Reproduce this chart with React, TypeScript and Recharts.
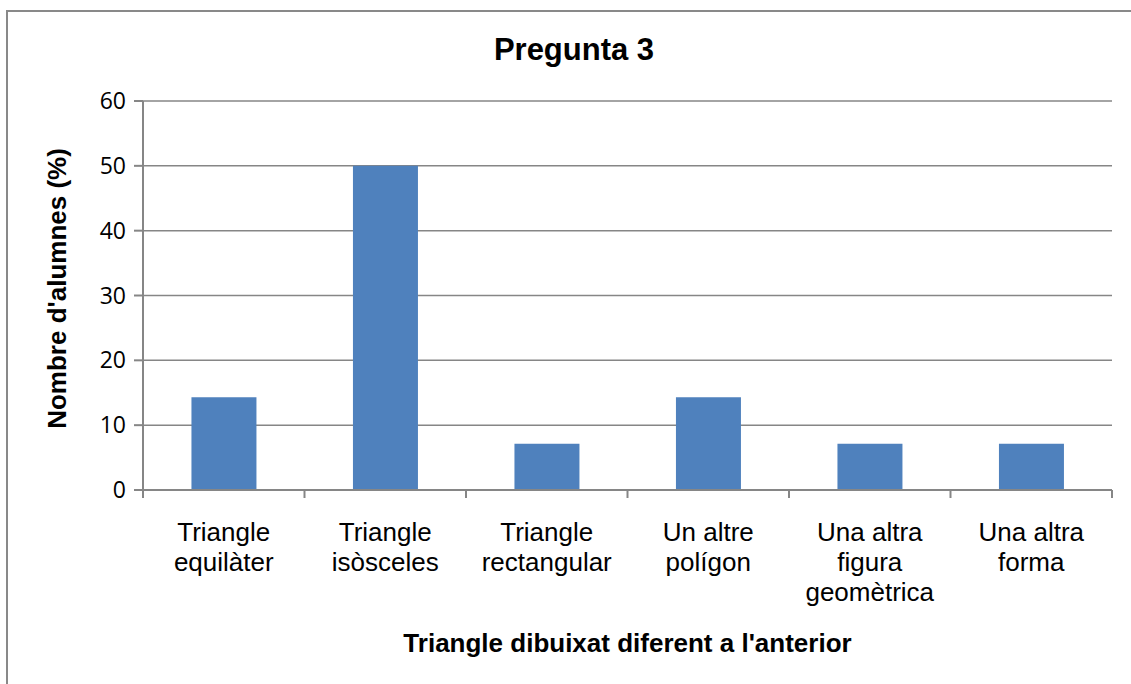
import React from 'react';
import { BarChart, Bar, XAxis, YAxis, CartesianGrid, Label } from 'recharts';

const categories = [
  'Triangle\nequilàter',
  'Triangle\nisòsceles',
  'Triangle\nrectangular',
  'Un altre\npolígon',
  'Una altra\nfigura\ngeomètrica',
  'Una altra\nforma',
];
const percentages = [14.29, 50, 7.14, 14.29, 7.14, 7.14];
const yTicks = [0, 10, 20, 30, 40, 50, 60];

const data = categories.map((name, i) => ({ name, value: percentages[i] }));

const GRAY = '#868686';

const CategoryTick = (props: any) => {
  const { x, y, payload, index, visibleTicksCount } = props;
  const half = payload.offset || 0;
  const lines = String(payload.value).split('\n');
  const isLast = index === visibleTicksCount - 1;
  return (
    <g>
      <line x1={x - half} y1={y} x2={x - half} y2={y + 8} stroke={GRAY} strokeWidth={2} />
      {isLast && <line x1={x + half} y1={y} x2={x + half} y2={y + 8} stroke={GRAY} strokeWidth={2} />}
      {lines.map((l: string, i: number) => (
        <text
          key={i}
          x={x}
          y={y + 51 + i * 30}
          textAnchor="middle"
          fontFamily="'Liberation Sans', Arial, sans-serif"
          fontSize={26}
          fill="#000"
        >
          {l}
        </text>
      ))}
    </g>
  );
};

export default function App() {
  return (
    <div style={{ position: 'absolute', left: 0, top: 0, width: 1131, height: 684, overflow: 'hidden', background: '#fff' }}>
      <div style={{ position: 'absolute', left: 6, top: 10, width: 1300, height: 900, border: '2px solid #898989' }} />
      <svg style={{ position: 'absolute', left: 0, top: 0 }} width={1131} height={80}>
        <text
          x={574}
          y={60}
          textAnchor="middle"
          fontFamily="'Liberation Sans', Arial, sans-serif"
          fontWeight="bold"
          fontSize={31}
          fill="#000"
        >
          Pregunta 3
        </text>
      </svg>
      <div style={{ position: 'absolute', left: 0, top: 0 }}>
        <BarChart
          width={1131}
          height={684}
          data={data}
          margin={{ top: 101, right: 19, bottom: 44, left: 0 }}
          barCategoryGap="30%"
        >
          <CartesianGrid vertical={false} stroke={GRAY} strokeWidth={1.5} />
          <XAxis
            dataKey="name"
            interval={0}
            height={150}
            tickLine={false}
            tickSize={0}
            tickMargin={0}
            axisLine={{ stroke: GRAY, strokeWidth: 2 }}
            tick={<CategoryTick />}
          >
            <Label
              content={(p: any) => {
                const vb = p.viewBox;
                return (
                  <text
                    x={vb.x + vb.width / 2}
                    y={vb.y + 162}
                    textAnchor="middle"
                    fontFamily="'Liberation Sans', Arial, sans-serif"
                    fontWeight="bold"
                    fontSize={26}
                    fill="#000"
                  >
                    Triangle dibuixat diferent a l'anterior
                  </text>
                );
              }}
            />
          </XAxis>
          <YAxis
            width={143}
            domain={[0, 60]}
            ticks={yTicks}
            interval={0}
            tickSize={9}
            tickMargin={8}
            axisLine={{ stroke: GRAY, strokeWidth: 2 }}
            tickLine={{ stroke: GRAY, strokeWidth: 2 }}
            tick={{ fill: '#000', fontSize: 23, fontFamily: "'Open Sans', sans-serif" }}
          >
            <Label
              content={(p: any) => {
                const vb = p.viewBox;
                const cx = 57;
                const cy = vb.y + vb.height / 2 - 7;
                return (
                  <text
                    x={cx}
                    y={cy}
                    transform={`rotate(-90 ${cx} ${cy})`}
                    textAnchor="middle"
                    dominantBaseline="central"
                    fontFamily="'Liberation Sans', Arial, sans-serif"
                    fontWeight="bold"
                    fontSize={26}
                    fill="#000"
                  >
                    Nombre d'alumnes (%)
                  </text>
                );
              }}
            />
          </YAxis>
          <Bar dataKey="value" fill="#4F81BD" isAnimationActive={false} />
        </BarChart>
      </div>
    </div>
  );
}
